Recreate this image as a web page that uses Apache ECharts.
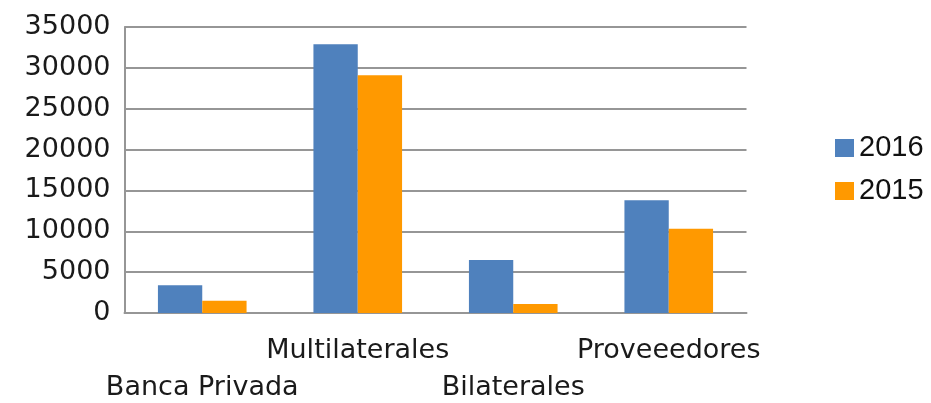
<!DOCTYPE html>
<html>
<head>
<meta charset="utf-8">
<script src="https://cdn.jsdelivr.net/npm/echarts@6/dist/echarts.min.js"></script>
<style>
  html, body { margin: 0; padding: 0; background: #fff; }
  #chart { width: 931px; height: 403px; }
</style>
</head>
<body>
<div id="chart"></div>
<script>
// datos
var categorias = ['Banca Privada', 'Multilaterales', 'Bilaterales', 'Proveeedores']
var serie2016 = [3400, 32900, 6500, 13800]
var serie2015 = [1500, 29100, 1100, 10300]
var yMin = 0
var yMax = 35000
var yPaso = 5000

var gris = '#969696'
var fuente = 'DejaVu Sans'

var myEcharts = echarts.init(document.getElementById('chart'))
var option = {
    animation: false,
    grid: {
        left: 124.5,
        right: 184.5,
        top: 27,
        bottom: 90,
        containLabel: false,
        outerBoundsMode: 'none'
    },
    legend: {
        orient: 'vertical',
        left: 830,
        top: 128,
        itemWidth: 19,
        itemHeight: 18,
        itemGap: 13,
        icon: 'rect',
        textStyle: {
            fontFamily: 'Liberation Sans',
            fontSize: 29,
            lineHeight: 30,
            color: '#111',
            padding: [0, 0, 0, 0]
        },
        data: ['2016', '2015']
    },
    xAxis: {
        type: 'category',
        data: categorias,
        axisTick: { show: false },
        axisLine: { show: true, lineStyle: { color: gris, width: 2 } },
        axisLabel: {
            interval: 0,
            margin: 19,
            fontFamily: fuente,
            fontSize: 27,
            lineHeight: 37,
            color: '#1a1a1a',
            // etiquetas escalonadas en dos filas
            formatter: function (value, index) {
                return index % 2 === 0 ? '\n' + value : value
            }
        }
    },
    yAxis: {
        type: 'value',
        min: yMin,
        max: yMax,
        interval: yPaso,
        axisLine: { show: true, lineStyle: { color: gris, width: 2 } },
        axisTick: { show: false },
        splitLine: { show: true, lineStyle: { color: gris, width: 2 } },
        axisLabel: {
            margin: 14,
            fontFamily: fuente,
            fontSize: 27,
            color: '#1a1a1a',
            formatter: function (v) { return String(v) }
        }
    },
    series: [{
        name: '2016',
        type: 'bar',
        data: serie2016,
        barGap: '0%',
        barCategoryGap: '43%',
        itemStyle: { color: '#4f81bd' }
    }, {
        name: '2015',
        type: 'bar',
        data: serie2015,
        barGap: '0%',
        barCategoryGap: '43%',
        itemStyle: { color: '#ff9900' }
    }]
}
myEcharts.setOption(option)
</script>
</body>
</html>
